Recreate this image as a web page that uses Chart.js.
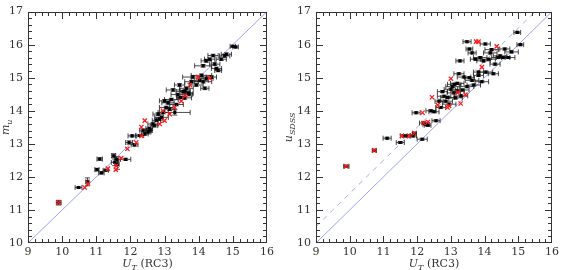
<!DOCTYPE html>
<html>
<head>
<meta charset="utf-8">
<script src="https://cdn.jsdelivr.net/npm/chart.js@4.4.1/dist/chart.umd.min.js"></script>
<style>
  body { margin: 0; background: #fff; }
  .wrap { position: relative; width: 562px; height: 270px; }
  canvas { position: absolute; top: 0; }
</style>
</head>
<body>
<div class="wrap">
  <canvas id="left" width="281" height="270" style="left:0"></canvas>
  <canvas id="right" width="281" height="270" style="left:281px"></canvas>
</div>
<script>
// axis ranges and tick labels
var xRange = [9, 16];
var yRange = [10, 17];
var xTicks = [9, 10, 11, 12, 13, 14, 15, 16];
var yTicks = [10, 11, 12, 13, 14, 15, 16, 17];

// reference lines (x endpoints, y endpoints)
var lineX = [9, 16];
var lineY = [10, 17];
var dashY = [10.5, 17.5];

// left panel: m_u vs U_T
var leftX = [9.9, 10.48, 10.74, 11.02, 11.1, 11.15, 11.28, 11.51, 11.54, 11.6, 11.62, 11.86, 11.96, 12.05, 12.12, 12.27, 12.37,
  12.52, 12.55, 12.58, 12.66, 12.76, 12.81, 12.91, 12.96, 13.05, 13.1, 13.2, 13.25, 13.3, 13.35, 13.39, 13.44, 13.54, 13.59,
  13.64, 13.69, 13.79, 13.83, 13.93, 14.03, 14.08, 14.13, 14.18, 14.22, 14.37, 14.13, 14.22, 14.32, 14.42, 14.47, 14.52,
  14.57, 14.66, 14.76, 14.81, 15.0, 15.08, 13.0, 13.15, 13.47, 12.85, 13.6, 12.7, 13.72, 12.42];
var leftY = [11.22, 11.68, 11.85, 12.22, 12.54, 12.12, 12.2, 12.64, 12.44, 12.53, 12.38, 12.53, 13.04, 13.24, 12.97, 13.25, 13.41,
  13.36, 13.46, 13.41, 13.6, 13.71, 13.9, 13.8, 13.95, 14.1, 14.24, 14.34, 14.63, 13.95, 14.19, 14.49, 14.78, 14.58, 14.39,
  14.68, 14.53, 14.88, 15.02, 14.78, 14.92, 15.07, 14.88, 14.68, 14.98, 15.02, 15.36, 15.51, 15.56, 15.67, 15.41, 15.28,
  15.22, 15.56, 15.66, 15.71, 15.95, 15.93, 14.3, 14.05, 14.4, 13.75, 14.6, 13.55, 14.5, 13.3];
var leftXErr = [0.07, 0.1, 0.05, 0.06, 0.08, 0.08, 0.08, 0.06, 0.1, 0.06, 0.05, 0.15, 0.1, 0.12, 0.1, 0.12, 0.1,
  0.08, 0.1, 0.06, 0.15, 0.12, 0.15, 0.2, 0.15, 0.2, 0.18, 0.2, 0.2, 0.45, 0.2, 0.2, 0.15, 0.2, 0.2,
  0.2, 0.15, 0.2, 0.3, 0.2, 0.25, 0.3, 0.25, 0.12, 0.2, 0.15, 0.25, 0.15, 0.15, 0.15, 0.15, 0.15,
  0.1, 0.15, 0.15, 0.15, 0.08, 0.08, 0.15, 0.15, 0.12, 0.1, 0.15, 0.1, 0.1, 0.1];
var leftYErr = [0.07, 0.02, 0.12, 0.04, 0.04, 0.03, 0.03, 0.06, 0.1, 0.08, 0.15, 0.03, 0.05, 0.03, 0.04, 0.03, 0.04,
  0.06, 0.05, 0.06, 0.04, 0.04, 0.04, 0.04, 0.04, 0.04, 0.04, 0.04, 0.04, 0.08, 0.04, 0.04, 0.04, 0.04, 0.04,
  0.04, 0.04, 0.04, 0.04, 0.04, 0.04, 0.04, 0.04, 0.04, 0.04, 0.04, 0.04, 0.04, 0.04, 0.04, 0.04, 0.04,
  0.04, 0.04, 0.04, 0.04, 0.03, 0.03, 0.04, 0.04, 0.04, 0.04, 0.04, 0.04, 0.05, 0.04];
var leftRedX = [9.9, 10.66, 10.76, 11.34, 11.59, 11.57, 11.73, 11.91, 12.17, 12.32, 12.32, 12.42, 12.86, 13.0, 13.15, 13.49,
  13.74, 13.98, 14.32, 12.95, 13.3, 13.6];
var leftRedY = [11.22, 11.68, 11.8, 12.25, 12.34, 12.22, 12.57, 12.85, 13.04, 13.24, 13.51, 13.7, 13.6, 13.7, 13.9, 14.29,
  14.78, 15.02, 14.98, 14.0, 14.1, 14.45];

// right panel: u_SDSS vs U_T
var rightX = [9.9, 10.73, 11.11, 11.5, 11.6, 11.7, 11.88, 11.92, 12.15, 11.97, 12.19, 12.27, 12.31, 12.41, 12.5, 12.56, 12.65,
  12.7, 12.75, 12.8, 12.85, 12.95, 13.05, 13.09, 13.14, 13.19, 13.24, 13.27, 13.34, 13.39, 13.48, 13.48, 13.55, 13.63, 13.63,
  13.68, 13.73, 13.82, 13.87, 13.92, 13.97, 14.02, 14.04, 14.12, 14.17, 14.21, 14.26, 14.31, 14.41, 14.46, 14.55, 14.6,
  14.7, 14.8, 14.97, 15.06, 13.82, 13.1, 13.2, 13.3, 12.9, 13.55, 13.0];
var rightY = [12.32, 12.8, 13.17, 13.04, 13.24, 13.24, 13.24, 13.32, 13.14, 13.94, 13.63, 13.59, 13.56, 14.0, 13.97, 13.7, 14.29,
  14.1, 14.58, 14.44, 14.29, 14.2, 14.73, 14.54, 14.39, 14.83, 15.12, 15.51, 14.63, 15.02, 14.73, 16.09, 15.87, 15.75, 14.92,
  14.78, 15.56, 15.17, 15.61, 14.88, 15.51, 16.02, 15.17, 15.56, 15.75, 15.85, 15.12, 15.41, 15.61, 15.66, 15.61, 15.87,
  15.61, 15.78, 16.37, 16.0, 15.07, 14.8, 14.6, 14.45, 14.4, 15.0, 14.65];
var rightXErr = [0.08, 0.06, 0.12, 0.12, 0.1, 0.1, 0.1, 0.06, 0.15, 0.12, 0.12, 0.1, 0.1, 0.15, 0.15, 0.12, 0.12,
  0.15, 0.15, 0.2, 0.2, 0.2, 0.2, 0.2, 0.2, 0.2, 0.15, 0.12, 0.2, 0.2, 0.2, 0.12, 0.1, 0.12, 0.2,
  0.2, 0.15, 0.15, 0.2, 0.2, 0.2, 0.15, 0.2, 0.2, 0.2, 0.2, 0.15, 0.15, 0.2, 0.2, 0.2, 0.15,
  0.2, 0.2, 0.1, 0.1, 0.15, 0.2, 0.2, 0.2, 0.2, 0.15, 0.2];
var rightYErr = [0.03, 0.04, 0.03, 0.03, 0.03, 0.03, 0.03, 0.03, 0.03, 0.03, 0.03, 0.03, 0.03, 0.03, 0.03, 0.03, 0.03,
  0.03, 0.03, 0.03, 0.03, 0.03, 0.03, 0.03, 0.03, 0.03, 0.03, 0.03, 0.03, 0.03, 0.03, 0.03, 0.03, 0.03, 0.03,
  0.03, 0.03, 0.03, 0.03, 0.03, 0.03, 0.03, 0.03, 0.03, 0.03, 0.03, 0.03, 0.03, 0.03, 0.03, 0.03, 0.03,
  0.03, 0.03, 0.03, 0.03, 0.03, 0.03, 0.03, 0.03, 0.03, 0.03, 0.03];
var rightRedX = [9.9, 10.73, 11.55, 11.76, 11.92, 12.16, 12.19, 12.32, 12.44, 12.61, 12.9, 13.0, 13.29, 13.43, 13.75, 13.82,
  13.92, 14.36, 13.2, 12.95];
var rightRedY = [12.32, 12.8, 13.24, 13.24, 13.32, 13.94, 13.63, 13.66, 14.41, 14.17, 14.1, 14.97, 14.22, 14.49, 16.09, 16.09,
  15.32, 15.95, 14.55, 14.15];

var SERIF = '"DejaVu Serif", "Liberation Serif", serif';
var INK = '#333';

function pts(xs, ys) {
  return xs.map(function (x, i) { return { x: x, y: ys[i] }; });
}

// error bars under the black markers
var errorBars = {
  id: 'errorBars',
  beforeDatasetDraw: function (chart, args, opts) {
    if (args.index !== 1) return;
    var xs = chart.scales.x, ys = chart.scales.y, ctx = chart.ctx;
    var X = opts.x, Y = opts.y, XE = opts.xerr, YE = opts.yerr;
    var a = chart.chartArea;
    ctx.save();
    ctx.beginPath();
    ctx.rect(a.left, a.top, a.right - a.left, a.bottom - a.top);
    ctx.clip();
    ctx.strokeStyle = 'rgba(30,30,30,0.8)';
    ctx.lineWidth = 1;
    var cap = 2.5;
    for (var i = 0; i < X.length; i++) {
      var px = xs.getPixelForValue(X[i]), py = ys.getPixelForValue(Y[i]);
      var x0 = xs.getPixelForValue(X[i] - XE[i]), x1 = xs.getPixelForValue(X[i] + XE[i]);
      var y0 = ys.getPixelForValue(Y[i] - YE[i]), y1 = ys.getPixelForValue(Y[i] + YE[i]);
      ctx.beginPath();
      ctx.moveTo(x0, py); ctx.lineTo(x1, py);
      ctx.moveTo(x0, py - cap); ctx.lineTo(x0, py + cap);
      ctx.moveTo(x1, py - cap); ctx.lineTo(x1, py + cap);
      ctx.moveTo(px, y0); ctx.lineTo(px, y1);
      ctx.moveTo(px - cap, y0); ctx.lineTo(px + cap, y0);
      ctx.moveTo(px - cap, y1); ctx.lineTo(px + cap, y1);
      ctx.stroke();
    }
    ctx.restore();
  }
};

// frame, inward ticks on all sides, axis titles with subscripts
var frame = {
  id: 'frame',
  afterDraw: function (chart, args, opts) {
    var ctx = chart.ctx, a = chart.chartArea;
    var xs = chart.scales.x, ys = chart.scales.y;
    var L = Math.round(a.left), R = Math.round(a.right), T = Math.round(a.top), B = Math.round(a.bottom);
    ctx.save();
    ctx.fillStyle = INK;
    // frame
    ctx.fillRect(L, T, R - L, 1);
    ctx.fillRect(L, B - 1, R - L, 1);
    ctx.fillRect(L, T, 1, B - T);
    ctx.fillRect(R - 1, T, 1, B - T);
    // ticks every 0.2, long at integers
    var k, p, len;
    for (k = 0; k <= 35; k++) {
      p = Math.round(xs.getPixelForValue(xRange[0] + k * 0.2));
      if (p >= R) p = R - 1;
      len = k % 5 === 0 ? 7 : 4;
      ctx.fillRect(p, B - len, 1, len);
      ctx.fillRect(p, T, 1, len);
    }
    for (k = 0; k <= 35; k++) {
      p = Math.round(ys.getPixelForValue(yRange[0] + k * 0.2));
      if (p >= B) p = B - 1;
      len = k % 5 === 0 ? 7 : 4;
      ctx.fillRect(L, p, len, 1);
      ctx.fillRect(R - len, p, len, 1);
    }

    ctx.textBaseline = 'alphabetic';
    // x title: U_T (RC3)
    var big = 'italic 11px ' + SERIF, sub = 'italic 8px ' + SERIF, norm = '11px ' + SERIF;
    ctx.font = big; var w1 = ctx.measureText('U').width;
    ctx.font = sub; var w2 = ctx.measureText('T').width;
    ctx.font = norm; var w3 = ctx.measureText(' (RC3)').width;
    var cx = (a.left + a.right) / 2 - (w1 + w2 + w3) / 2, by = 267;
    ctx.textAlign = 'left';
    ctx.font = big; ctx.fillText('U', cx, by);
    ctx.font = sub; ctx.fillText('T', cx + w1, by + 2.5);
    ctx.font = norm; ctx.fillText(' (RC3)', cx + w1 + w2, by);

    // y title
    ctx.translate(opts.titleX, (a.top + a.bottom) / 2);
    ctx.rotate(-Math.PI / 2);
    ctx.font = big; var m1 = ctx.measureText(opts.main).width;
    ctx.font = sub; var m2 = ctx.measureText(opts.sub).width;
    var sx = -(m1 + m2) / 2;
    ctx.font = big; ctx.fillText(opts.main, sx, 0);
    ctx.font = sub; ctx.fillText(opts.sub, sx + m1, 2.5);
    ctx.restore();
  }
};

function makePanel(id, bx, by, bxe, bye, rx, ry, dashed, padLeft, padRight, main, sub, titleX) {
  var datasets = [
    {
      type: 'line', data: pts(lineX, lineY), borderColor: 'rgba(110,110,240,0.65)',
      borderWidth: 1, pointRadius: 0, order: 5
    },
    {
      type: 'scatter', data: pts(bx, by), backgroundColor: '#000', borderColor: '#000',
      pointRadius: 2.2, pointStyle: 'rect', borderWidth: 0, order: 2
    },
    {
      type: 'scatter', data: pts(rx, ry), borderColor: '#ff1a1a', backgroundColor: '#ff1a1a',
      pointStyle: 'crossRot', pointRadius: 3, borderWidth: 1.3, order: 1
    }
  ];
  if (dashed) {
    datasets.push({
      type: 'line', data: pts(lineX, dashY), borderColor: 'rgba(120,120,170,0.6)',
      borderWidth: 1, borderDash: [5, 5], pointRadius: 0, order: 6
    });
  }
  var tickFont = { family: SERIF, size: 11 };
  return new Chart(document.getElementById(id), {
    data: { datasets: datasets },
    plugins: [errorBars, frame],
    options: {
      responsive: false,
      animation: false,
      devicePixelRatio: 1,
      layout: { padding: { top: 4, right: padRight, left: 0, bottom: 0 } },
      plugins: {
        legend: { display: false },
        tooltip: { enabled: false },
        errorBars: { x: bx, y: by, xerr: bxe, yerr: bye },
        frame: { main: main, sub: sub, titleX: titleX }
      },
      scales: {
        x: {
          type: 'linear', min: xRange[0], max: xRange[1],
          afterBuildTicks: function (s) { s.ticks = xTicks.map(function (v) { return { value: v }; }); },
          ticks: { font: tickFont, color: INK, padding: 3, maxRotation: 0, autoSkip: false },
          grid: { display: false, drawTicks: false, tickLength: 0 }, border: { display: false },
          afterFit: function (s) { s.height = 27; }
        },
        y: {
          type: 'linear', min: yRange[0], max: yRange[1],
          afterBuildTicks: function (s) { s.ticks = yTicks.map(function (v) { return { value: v }; }); },
          ticks: { font: tickFont, color: INK, padding: 5, autoSkip: false },
          grid: { display: false, drawTicks: false, tickLength: 0 }, border: { display: false },
          afterFit: function (s) { s.width = padLeft; }
        }
      }
    }
  });
}

makePanel('left', leftX, leftY, leftXErr, leftYErr, leftRedX, leftRedY, false, 28, 14, 'm', 'u', 9);
makePanel('right', rightX, rightY, rightXErr, rightYErr, rightRedX, rightRedY, true, 35, 7, 'u', 'SDSS', 11);
</script>
</body>
</html>
